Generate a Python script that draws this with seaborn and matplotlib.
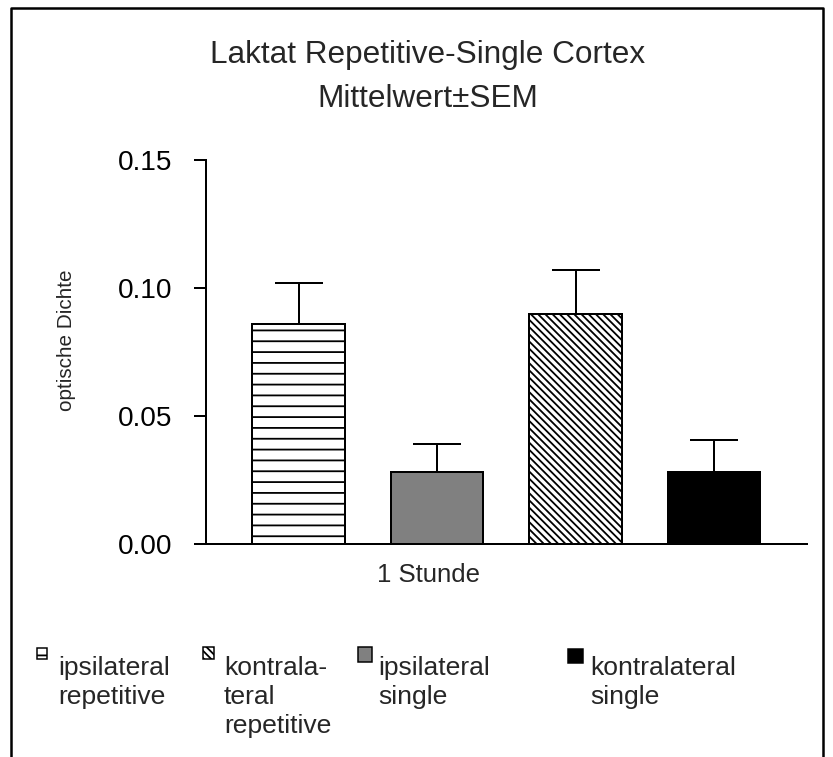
import numpy as np
import pandas as pd
import matplotlib
matplotlib.use("Agg")
import matplotlib.pyplot as plt
from matplotlib.patches import Rectangle
from matplotlib.lines import Line2D
from matplotlib.ticker import FormatStrFormatter
import seaborn as sns

# Style
sns.set_style("ticks")
plt.rcParams["font.family"] = ["Liberation Sans", "DejaVu Sans"]
plt.rcParams["hatch.linewidth"] = 2.0
plt.rcParams["hatch.color"] = "black"

DPI = 65
PT = 72 / DPI          # 1 pixel en points
W, H = 833, 757

# Données
gruppen = ["ipsilateral repetitive", "ipsilateral single",
           "kontralateral repetitive", "kontralateral single"]
mittelwert = [0.086, 0.028, 0.090, 0.028]
sem = [0.016, 0.011, 0.017, 0.0125]
farben = ["white", "#808080", "white", "black"]
muster = ["-", "", "\\\\\\", ""]

y_ticks = [0.00, 0.05, 0.10, 0.15]
titel = ["Laktat Repetitive-Single Cortex", "Mittelwert\u00b1SEM"]
x_text = "1 Stunde"
y_text = "optische Dichte"

# Légende : ordre des entrées (indices des barres) et textes sur plusieurs lignes
legende_idx = [0, 2, 1, 3]
legende_text = [["ipsilateral", "repetitive"],
                ["kontrala-", "teral", "repetitive"],
                ["ipsilateral", "single"],
                ["kontralateral", "single"]]

df = pd.DataFrame({"gruppe": gruppen, "wert": mittelwert, "sem": sem})


def fx(px):
    return px / W


def fy(py):
    return 1 - py / H


fig = plt.figure(figsize=(W / DPI, H / DPI), dpi=DPI)
ax = fig.add_axes([fx(206), fy(544), (807 - 206) / W, (544 - 160) / H])

sns.barplot(data=df, x="gruppe", y="wert", hue="gruppe", palette=farben,
            legend=False, width=0.67, edgecolor="black", linewidth=2 * PT,
            errorbar=None, ax=ax)

for patch, m in zip(ax.patches, muster):
    patch.set_hatch(m)

# Barres d'erreur (seulement vers le haut)
ax.errorbar(np.arange(len(df)), df["wert"], yerr=[np.zeros(len(df)), df["sem"]],
            fmt="none", ecolor="black", elinewidth=2 * PT, capthick=2 * PT,
            capsize=24 * PT, zorder=1)

ax.set_xlim(-0.668, 3.671)
ax.set_ylim(0, 0.15)
ax.set_yticks(y_ticks)
ax.yaxis.set_major_formatter(FormatStrFormatter("%.2f"))
ax.set_xticks([])
ax.set_xlabel("")
ax.set_ylabel("")
ax.tick_params(axis="y", length=12 * PT, width=2 * PT, pad=22 * PT,
               labelsize=28 * PT, color="black", labelcolor="black")
sns.despine(ax=ax)
for s in ["left", "bottom"]:
    ax.spines[s].set_linewidth(2 * PT)
    ax.spines[s].set_color("black")

# Titre et libellés
fig.text(fx(428), fy(63), titel[0], ha="center", va="baseline", fontsize=31.5 * PT)
fig.text(fx(428), fy(107), titel[1], ha="center", va="baseline", fontsize=31.5 * PT)
fig.text(fx(66), fy(340), y_text, rotation=90, ha="center", va="center",
         fontsize=20.6 * PT)
fig.text(fx(428.5), fy(582), x_text, ha="center", va="baseline", fontsize=25.7 * PT)

# Légende dessinée à la main
marker_box = [(37, 648, 10, 11), (203, 647, 11, 12), (358, 647, 14, 15), (568, 649, 15, 14)]
text_x = [58, 224, 378, 590]
baselines = [675, 704, 733]
for k, i in enumerate(legende_idx):
    x0, y0, w, h = marker_box[k]
    fig.add_artist(Rectangle((fx(x0), fy(y0 + h)), w / W, h / H,
                             transform=fig.transFigure, facecolor=farben[i],
                             edgecolor="black", hatch=muster[i], linewidth=1.5 * PT))
    for j, line in enumerate(legende_text[k]):
        fig.text(fx(text_x[k]), fy(baselines[j]), line, ha="left", va="baseline",
                 fontsize=26.5 * PT)

# Cadre
fig.add_artist(Line2D([fx(11), fx(11), fx(823), fx(823)],
                      [fy(757), fy(8), fy(8), fy(757)],
                      transform=fig.transFigure, color="black", linewidth=2.5 * PT))

fig.savefig("out.png", dpi=DPI)
